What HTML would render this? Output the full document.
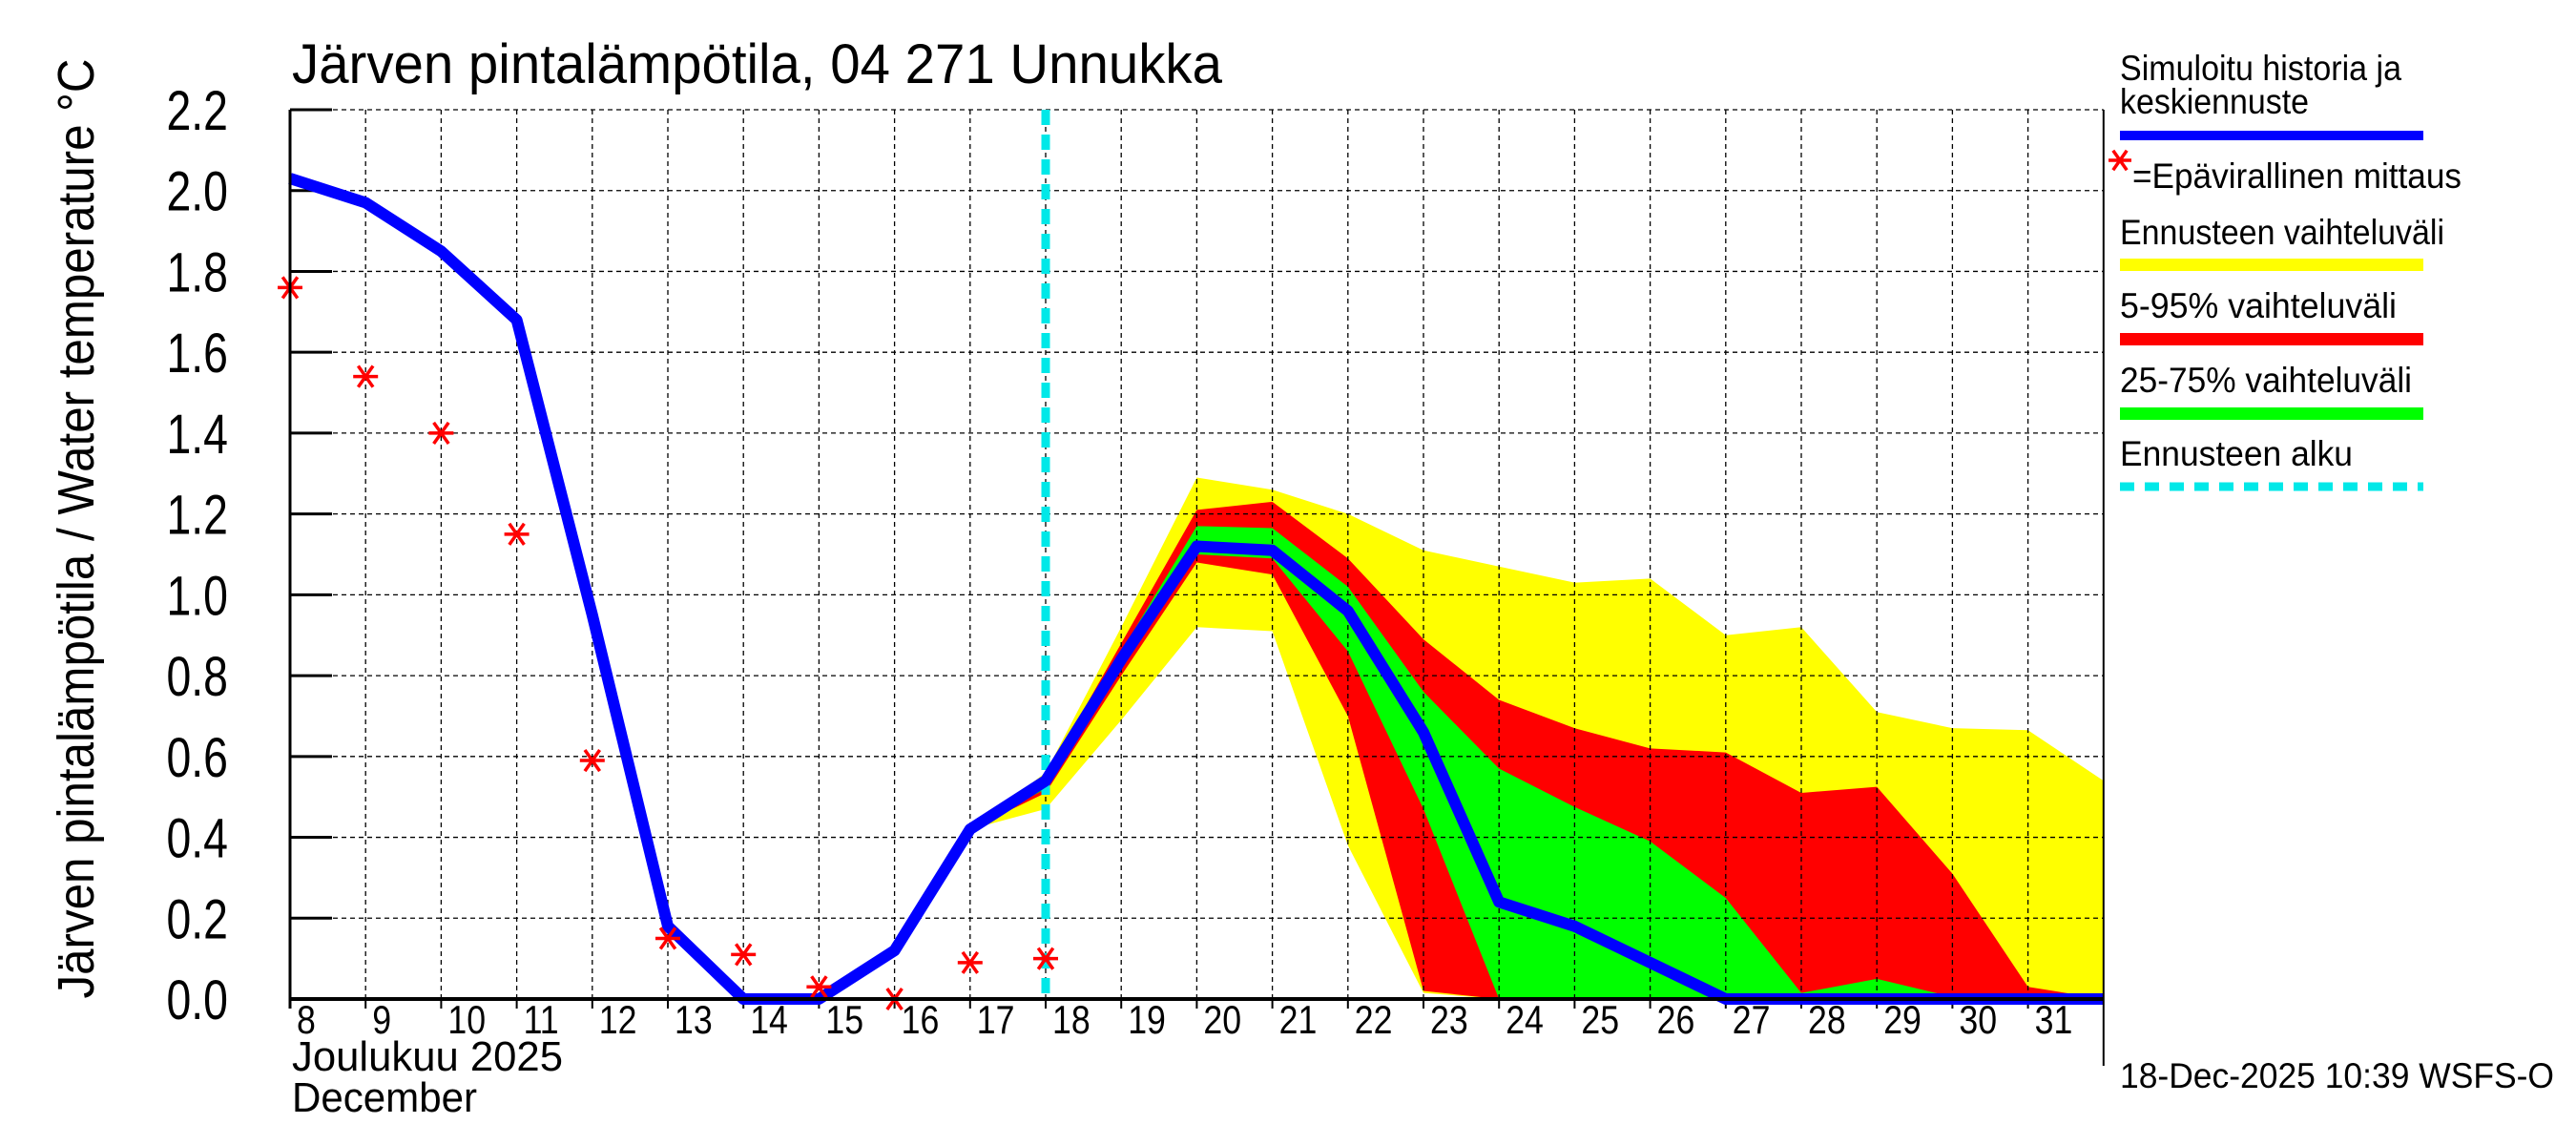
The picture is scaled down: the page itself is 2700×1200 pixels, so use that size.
<!DOCTYPE html>
<html><head><meta charset="utf-8"><style>
html,body{margin:0;padding:0;background:#fff;}
svg{display:block;font-family:"Liberation Sans",sans-serif;}
</style></head><body>
<svg id="chart" width="2700" height="1200" viewBox="0 0 2700 1200" xmlns="http://www.w3.org/2000/svg"></svg>
<script>
const days=[8,9,10,11,12,13,14,15,16,17,18,19,20,21,22,23,24,25,26,27,28,29,30,31,32];
const dayLabels=["8","9","10","11","12","13","14","15","16","17","18","19","20","21","22","23","24","25","26","27","28","29","30","31"];
const yTicks=[0,0.2,0.4,0.6,0.8,1.0,1.2,1.4,1.6,1.8,2.0,2.2];
const yTickLabels=["0.0","0.2","0.4","0.6","0.8","1.0","1.2","1.4","1.6","1.8","2.0","2.2"];
const histDays=[8,9,10,11,12,13,14,15,16,17,18,19,20,21,22,23,24,25,26,27,28,29,30,31,32];
const histVals=[2.03,1.97,1.85,1.68,0.95,0.18,0.0,0.0,0.12,0.42,0.54,0.84,1.12,1.11,0.96,0.66,0.24,0.18,0.09,0.0,0.0,0.0,0.0,0.0,0.0];
const measDays=[8,9,10,11,12,13,14,15,16,17,18];
const measVals=[1.76,1.54,1.40,1.15,0.59,0.15,0.11,0.03,0.0,0.09,0.10];
const bandDays=[17,18,19,20,21,22,23,24,25,26,27,28,29,30,31,32];
const yellowHi=[0.42,0.56,0.92,1.29,1.26,1.20,1.11,1.07,1.03,1.04,0.90,0.92,0.71,0.67,0.665,0.54];
const yellowLo=[0.42,0.47,0.69,0.92,0.91,0.38,0.015,0,0,0,0,0,0,0,0,0];
const redHi=[0.42,0.55,0.88,1.21,1.23,1.09,0.89,0.74,0.67,0.62,0.61,0.51,0.525,0.31,0.03,0];
const redLo=[0.42,0.51,0.80,1.08,1.05,0.70,0.02,0,0,0,0,0,0,0,0,0];
const greenHi=[0.42,0.53,0.86,1.17,1.165,1.02,0.76,0.57,0.475,0.39,0.25,0.015,0.05,0.005,0,0];
const greenLo=[0.42,0.52,0.83,1.10,1.09,0.86,0.47,0,0,0,0,0,0,0,0,0];
const forecastStart=18;

const X0=304,DW=79.2,Y0=1047,YTOP=115,YMAX=2.2;
const xs=d=>X0+(d-8)*DW;
const ys=v=>Y0-(v/YMAX)*(Y0-YTOP);
const svg=document.getElementById('chart');
const NS='http://www.w3.org/2000/svg';
function mk(tag,attrs,parent){const e=document.createElementNS(NS,tag);for(const k in attrs)e.setAttribute(k,attrs[k]);(parent||svg).appendChild(e);return e;}
function txt(s,attrs){const t=mk('text',attrs);t.textContent=s;return t;}

function band(hi,lo,color,name){
  let p=bandDays.map((d,i)=>xs(d)+','+ys(hi[i]));
  for(let i=bandDays.length-1;i>=0;i--)p.push(xs(bandDays[i])+','+ys(lo[i]));
  const e=mk('polygon',{points:p.join(' '),fill:color});
  
  
}
band(yellowHi,yellowLo,'#ffff00','forecast-range-band');
band(redHi,redLo,'#ff0000','band-5-95');
band(greenHi,greenLo,'#00ff00','band-25-75');

const grid=mk('g',{stroke:'#000','stroke-width':1.3,'stroke-dasharray':'5,4'});


for(let d=9;d<=31;d++)mk('line',{x1:xs(d),x2:xs(d),y1:YTOP,y2:Y0},grid);
yTicks.forEach(v=>{if(v>0)mk('line',{x1:X0,x2:xs(32),y1:ys(v),y2:ys(v)},grid);});

yTicks.forEach((v,i)=>{
  const l=mk('line',{x1:X0,x2:X0+44,y1:ys(v),y2:ys(v),stroke:'#000','stroke-width':3});
  
  
  const t=txt(yTickLabels[i],{x:0,y:0,'font-size':58,'text-anchor':'end',transform:'translate(239,'+(ys(v)+21)+') scale(0.8,1)'});
  
  
});
dayLabels.forEach((s,i)=>{
  const d=days[i];
  const l=mk('line',{x1:xs(d),x2:xs(d),y1:Y0,y2:Y0+10,stroke:'#000','stroke-width':2});
  
  
  const t=txt(s,{x:0,y:0,'font-size':42,transform:'translate('+(xs(d)+7)+',1083) scale(0.85,1)'});
  
  
});

const fs=mk('line',{x1:xs(forecastStart),x2:xs(forecastStart),y1:YTOP,y2:Y0,stroke:'#00e8e8','stroke-width':9,'stroke-dasharray':'16,10'});



const hl=mk('polyline',{points:histDays.map((d,i)=>xs(d)+','+ys(histVals[i])).join(' '),fill:'none',stroke:'#0000ff','stroke-width':12,'stroke-linejoin':'round'});



function star(cx,cy,r,parent){
  const g=mk('g',{stroke:'#ff0000','stroke-width':3.5},parent);
  mk('line',{x1:cx-r,x2:cx+r,y1:cy,y2:cy},g);
  mk('line',{x1:cx-r*0.6,x2:cx+r*0.6,y1:cy-r*0.85,y2:cy+r*0.85},g);
  mk('line',{x1:cx-r*0.6,x2:cx+r*0.6,y1:cy+r*0.85,y2:cy-r*0.85},g);
  return g;
}
measDays.forEach((d,i)=>{
  const g=star(xs(d),ys(measVals[i]),13);
  
  
});

const ax=mk('g',{stroke:'#000'});


mk('line',{x1:X0,x2:X0,y1:YTOP,y2:Y0+10,'stroke-width':3},ax);
mk('line',{x1:X0,x2:xs(32),y1:Y0,y2:Y0,'stroke-width':4},ax);
mk('line',{x1:xs(32),x2:xs(32),y1:YTOP,y2:1117,'stroke-width':2},ax);

let t;
t=txt('Järven pintalämpötila, 04 271 Unnukka',{x:306,y:87,'font-size':58,textLength:975,lengthAdjust:'spacingAndGlyphs'});

t=txt('Järven pintalämpötila / Water temperature °C',{x:0,y:0,'font-size':54,'text-anchor':'middle',transform:'translate(98,554) rotate(-90)',textLength:985,lengthAdjust:'spacingAndGlyphs'});

t=txt('Joulukuu  2025',{x:306,y:1122,'font-size':44,textLength:284,lengthAdjust:'spacingAndGlyphs'});

t=txt('December',{x:306,y:1165,'font-size':44,textLength:194,lengthAdjust:'spacingAndGlyphs'});


const LX=2222,LW=318;
function ltxt(s,y,w,name,x){const e=txt(s,{x:x||LX,y:y,'font-size':37,textLength:w,lengthAdjust:'spacingAndGlyphs'});}
ltxt('Simuloitu historia ja',84,295,'legend-history-label');
ltxt('keskiennuste',119,198,'legend-history-label-2');
let r=mk('rect',{x:LX,y:137,width:LW,height:10,fill:'#0000ff'});

let sg=star(LX,168,12);

ltxt('=Epävirallinen mittaus',197,345,'legend-measurement-label',2235);
ltxt('Ennusteen vaihteluväli',256,340,'legend-range-label');
r=mk('rect',{x:LX,y:271,width:LW,height:13,fill:'#ffff00'});

ltxt('5-95% vaihteluväli',333,290,'legend-5-95-label');
r=mk('rect',{x:LX,y:349,width:LW,height:13,fill:'#ff0000'});

ltxt('25-75% vaihteluväli',411,306,'legend-25-75-label');
r=mk('rect',{x:LX,y:427,width:LW,height:13,fill:'#00ff00'});

ltxt('Ennusteen alku',488,244,'legend-forecast-start-label');
r=mk('line',{x1:LX,x2:LX+LW,y1:510,y2:510,stroke:'#00e8e8','stroke-width':9,'stroke-dasharray':'15,11'});

ltxt('18-Dec-2025 10:39 WSFS-O',1140,455,'timestamp');
</script>
</body></html>
